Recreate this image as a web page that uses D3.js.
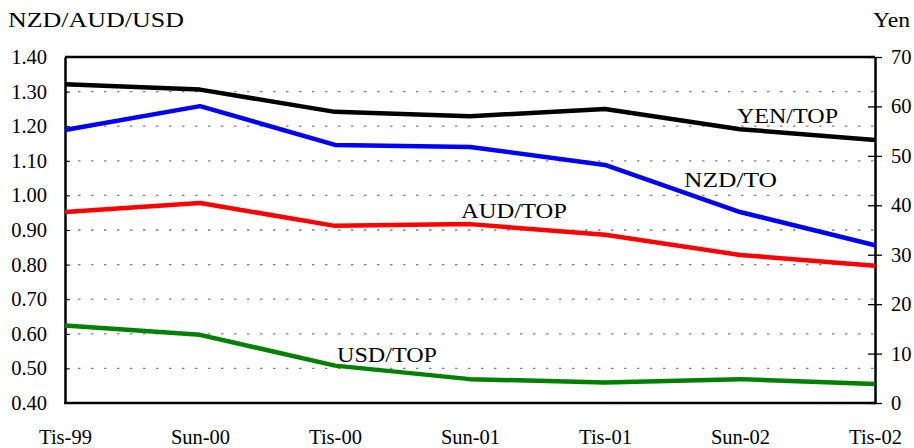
<!DOCTYPE html>
<html><head><meta charset="utf-8">
<script src="https://cdn.jsdelivr.net/npm/d3@7"></script>
<style>
body{margin:0;background:#fff;}
svg{display:block;font-family:"Liberation Serif","Times New Roman",serif;}
</style></head>
<body><svg id="c" width="914" height="448"></svg>
<script>
const categories = ["Tis-99","Sun-00","Tis-00","Sun-01","Tis-01","Sun-02","Tis-02"];
const nzd = [1.189,1.258,1.146,1.140,1.088,0.952,0.856];
const aud = [0.952,0.978,0.912,0.917,0.886,0.828,0.797];
const usd = [0.624,0.597,0.508,0.469,0.459,0.469,0.455];
const yen = [64.5,63.4,58.9,58.0,59.5,55.4,53.2];
const leftTicks = [0.40,0.50,0.60,0.70,0.80,0.90,1.00,1.10,1.20,1.30,1.40];
const rightTicks = [0,10,20,30,40,50,60,70];

const svg = d3.select("#c");
const L=65, R=875, T=57, B=403;
const x = d3.scalePoint().domain(categories).range([L,R]);
const yL = d3.scaleLinear().domain([0.4,1.4]).range([B,T]);
const yR = d3.scaleLinear().domain([0,70]).range([B,T]);
const fs = 20.5;

// gridlines
svg.append("g").selectAll("line").data(leftTicks.slice(1,-1)).join("line")
  .attr("x1",L).attr("x2",R).attr("y1",d=>yL(d)).attr("y2",d=>yL(d))
  .attr("stroke","#808080").attr("stroke-width",1.3).attr("stroke-dasharray","2.5,10.5");

// box
svg.append("line").attr("x1",L).attr("x2",R).attr("y1",T).attr("y2",T).attr("stroke","#000").attr("stroke-width",2.5);

// left axis
const ga = svg.append("g").attr("transform",`translate(${L},0)`)
  .call(d3.axisLeft(yL).tickValues(leftTicks).tickFormat(d3.format(".2f")).tickSizeInner(-5).tickSizeOuter(0).tickPadding(18));
ga.select(".domain").attr("stroke","#000").attr("stroke-width",2.5);
ga.selectAll(".tick line").attr("stroke","#000").attr("stroke-width",1);
ga.selectAll("text").attr("font-size",fs).attr("font-family","Liberation Serif").attr("fill","#000");

// right axis
const gr = svg.append("g").attr("transform",`translate(${R},0)`)
  .call(d3.axisRight(yR).tickValues(rightTicks).tickSizeInner(7).tickSizeOuter(0).tickPadding(9));
gr.select(".domain").attr("stroke","#000").attr("stroke-width",2.5);
gr.selectAll(".tick line").attr("x1",-7).attr("stroke","#000").attr("stroke-width",1.3);
gr.selectAll("text").attr("font-size",fs).attr("font-family","Liberation Serif").attr("fill","#000");

// bottom axis
const gb = svg.append("g").attr("transform",`translate(0,${B})`)
  .call(d3.axisBottom(x).tickSizeInner(0).tickSizeOuter(0).tickPadding(26));
gb.select(".domain").attr("stroke","#000").attr("stroke-width",2.5).attr("d",`M${L-1},0H${R+1}`);
gb.selectAll("text").attr("font-size",fs).attr("font-family","Liberation Serif").attr("fill","#000");

// lines
const series = [
  {vals:yen, y:yR, color:"#000000"},
  {vals:nzd, y:yL, color:"#0000ff"},
  {vals:aud, y:yL, color:"#ff0000"},
  {vals:usd, y:yL, color:"#008000"}
];
series.forEach(s=>{
  const line = d3.line().x((d,i)=>x(categories[i])).y(d=>s.y(d));
  svg.append("path").datum(s.vals).attr("d",line).attr("fill","none")
    .attr("stroke",s.color).attr("stroke-width",4.5).attr("stroke-linejoin","round");
});

// labels
const labels = [
  {t:"NZD/AUD/USD", x:8, y:27, w:176},
  {t:"Yen", x:873, y:27, w:37},
  {t:"YEN/TOP", x:737, y:123, w:101},
  {t:"NZD/TO", x:684, y:187, w:93},
  {t:"AUD/TOP", x:461, y:218, w:106},
  {t:"USD/TOP", x:337, y:362, w:100}
];
svg.append("g").selectAll("text").data(labels).join("text")
  .attr("x",d=>d.x).attr("y",d=>d.y).text(d=>d.t)
  .attr("font-size",fs).attr("fill","#000")
  .attr("textLength",d=>d.w).attr("lengthAdjust","spacingAndGlyphs");
</script></body></html>
